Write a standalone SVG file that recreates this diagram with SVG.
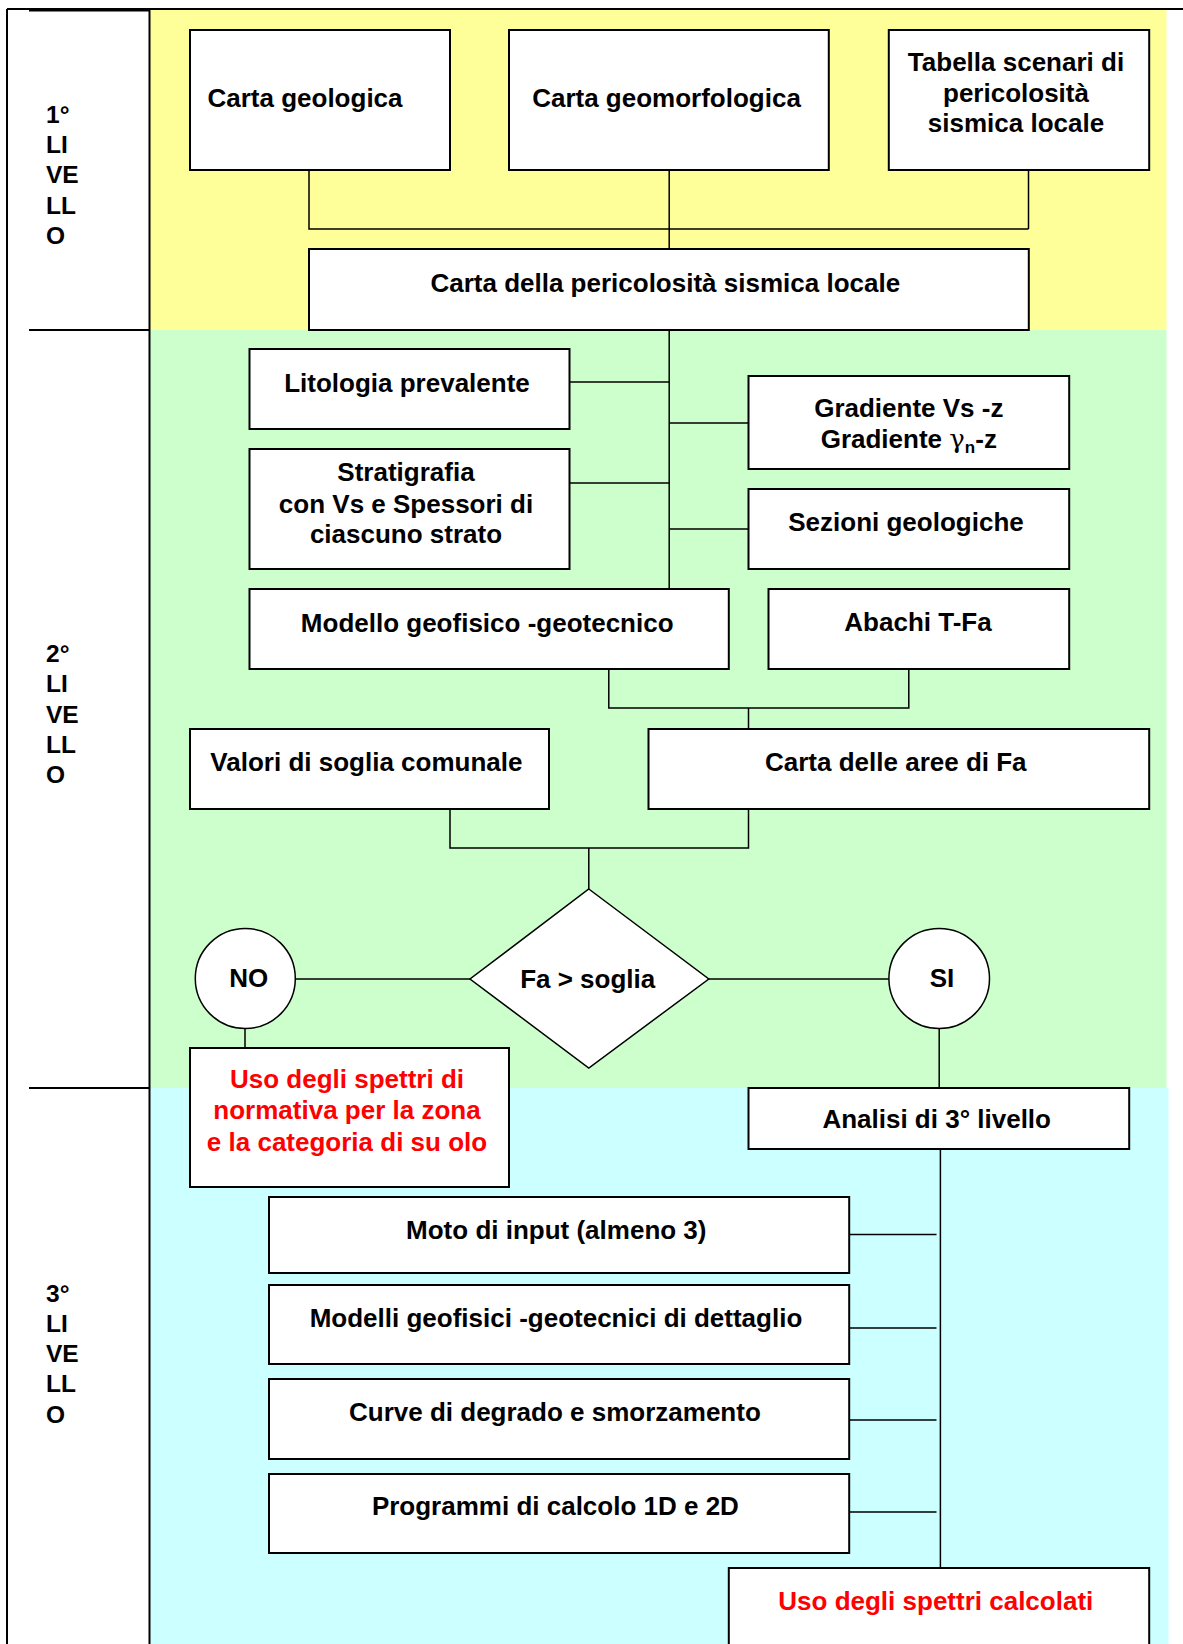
<svg xmlns="http://www.w3.org/2000/svg" width="1183" height="1644" viewBox="0 0 1183 1644">
<style>
.bx{fill:#fff;stroke:#000;stroke-width:2}
.sh{fill:#fff;stroke:#000;stroke-width:1.5}
.t{font-family:"Liberation Sans",Arial,sans-serif;font-weight:bold;font-size:26px;fill:#000;text-anchor:middle}
.r{fill:#ff0000}
.lv{font-family:"Liberation Sans",Arial,sans-serif;font-weight:bold;font-size:24.5px;fill:#000}
.c{fill:none;stroke:#000;stroke-width:1.5}
.fr{fill:none;stroke:#000;stroke-width:2}
</style>
<rect width="1183" height="1644" fill="#fff"/>
<g id="backgrounds">
<rect x="150" y="10" width="1016.5" height="320" fill="#ffff99"/>
<rect x="150" y="330" width="1016.5" height="758" fill="#ccffcc"/>
<rect x="150" y="1088" width="1018.5" height="556" fill="#ccffff"/>
</g>
<g id="frame">
<path class="fr" d="M7,9 H1183 M7,9 V1644 M29,10.5 H150 M149.5,10 V1644 M29,330 H150 M29,1088 H150"/>
</g>
<g id="levels">
<text class="lv" x="46" y="123">1°</text>
<text class="lv" x="46" y="152.5">LI</text>
<text class="lv" x="46" y="183">VE</text>
<text class="lv" x="46" y="213.5">LL</text>
<text class="lv" x="46" y="244">O</text>
<text class="lv" x="46" y="662">2°</text>
<text class="lv" x="46" y="692">LI</text>
<text class="lv" x="46" y="722.5">VE</text>
<text class="lv" x="46" y="752.5">LL</text>
<text class="lv" x="46" y="783">O</text>
<text class="lv" x="46" y="1301.5">3°</text>
<text class="lv" x="46" y="1331.5">LI</text>
<text class="lv" x="46" y="1361.5">VE</text>
<text class="lv" x="46" y="1392">LL</text>
<text class="lv" x="46" y="1423">O</text>
</g>
<g id="connectors">
<path class="c" d="M309,170 V229 H1028.5 M1028.5,170 V229 M669.2,170 V249"/>
<path class="c" d="M669.2,330 V589"/>
<path class="c" d="M569.5,382 H669.2 M569.5,483 H669.2 M669.2,423 H748.5 M669.2,529 H748.5"/>
<path class="c" d="M608.8,669 V708 H908.8 V669 M748.5,708 V729"/>
<path class="c" d="M450,809 V848 H748.5 V809 M588.8,848 V889"/>
<path class="c" d="M295.3,979 H470 M708.8,979 H888.8"/>
<path class="c" d="M245,1028.5 V1048 M939.2,1028.5 V1088"/>
<path class="c" d="M940.4,1149 V1568"/>
<path class="c" d="M849.2,1234.5 H936.5 M849.2,1328 H936.5 M849.2,1420 H936.5 M849.2,1512 H936.5"/>
</g>
<g id="carta-geologica">
<rect class="bx" x="190" y="30" width="260" height="140"/>
<text class="t" x="305" y="107">Carta geologica</text>
</g>
<g id="carta-geomorfologica">
<rect class="bx" x="509" y="30" width="319.8" height="140"/>
<text class="t" x="666.5" y="107">Carta geomorfologica</text>
</g>
<g id="tabella-scenari">
<rect class="bx" x="888.8" y="30" width="260.4" height="140"/>
<text class="t" x="1016" y="71">Tabella scenari di</text>
<text class="t" x="1016" y="101.5">pericolosità</text>
<text class="t" x="1016" y="132">sismica locale</text>
</g>
<g id="carta-pericolosita">
<rect class="bx" x="309" y="249" width="719.8" height="81"/>
<text class="t" x="665.3" y="292">Carta della pericolosità sismica locale</text>
</g>
<g id="litologia">
<rect class="bx" x="249.5" y="349" width="320" height="80"/>
<text class="t" x="407" y="392">Litologia prevalente</text>
</g>
<g id="gradiente">
<rect class="bx" x="748.5" y="376" width="320.7" height="93"/>
<text class="t" x="908.8" y="417">Gradiente Vs -z</text>
<text class="t" x="908.8" y="448">Gradiente <tspan font-family="'DejaVu Serif','Liberation Serif',serif" font-weight="normal">γ</tspan><tspan font-size="17" dy="5">n</tspan><tspan dy="-5">-z</tspan></text>
</g>
<g id="stratigrafia">
<rect class="bx" x="249.5" y="449" width="320" height="120"/>
<text class="t" x="406" y="481">Stratigrafia</text>
<text class="t" x="406" y="512.5">con Vs e Spessori di</text>
<text class="t" x="406" y="543">ciascuno strato</text>
</g>
<g id="sezioni">
<rect class="bx" x="748.5" y="489" width="320.7" height="80"/>
<text class="t" x="906" y="531">Sezioni geologiche</text>
</g>
<g id="modello">
<rect class="bx" x="249.5" y="589" width="479.3" height="80"/>
<text class="t" x="487.2" y="632">Modello geofisico -geotecnico</text>
</g>
<g id="abachi">
<rect class="bx" x="768.5" y="589" width="300.7" height="80"/>
<text class="t" x="918" y="631">Abachi T-Fa</text>
</g>
<g id="valori-soglia">
<rect class="bx" x="190" y="729" width="359" height="80"/>
<text class="t" x="366.4" y="771">Valori di soglia comunale</text>
</g>
<g id="carta-aree-fa">
<rect class="bx" x="648.5" y="729" width="500.7" height="80"/>
<text class="t" x="895.8" y="771">Carta delle aree di Fa</text>
</g>
<g id="decisione">
<polygon class="sh" points="588.8,889 708.8,979 588.8,1068 470,979"/>
<text class="t" x="587.7" y="988">Fa &gt; soglia</text>
</g>
<g id="no">
<ellipse class="sh" cx="245.3" cy="978.5" rx="50" ry="50"/>
<text class="t" x="248.8" y="987">NO</text>
</g>
<g id="si">
<ellipse class="sh" cx="939.2" cy="978.5" rx="50.3" ry="50"/>
<text class="t" x="942" y="987">SI</text>
</g>
<g id="uso-normativa">
<rect class="bx" x="190" y="1048" width="319" height="139"/>
<text class="t r" x="347" y="1088">Uso degli spettri di</text>
<text class="t r" x="347" y="1119">normativa per la zona</text>
<text class="t r" x="347" y="1151">e la categoria di su olo</text>
</g>
<g id="analisi">
<rect class="bx" x="748.5" y="1088" width="380.7" height="61"/>
<text class="t" x="936.7" y="1128">Analisi di 3° livello</text>
</g>
<g id="moto">
<rect class="bx" x="269" y="1197" width="580.2" height="76"/>
<text class="t" x="556.3" y="1239">Moto di input (almeno 3)</text>
</g>
<g id="modelli">
<rect class="bx" x="269" y="1285" width="580.2" height="79"/>
<text class="t" x="556" y="1327">Modelli geofisici -geotecnici di dettaglio</text>
</g>
<g id="curve">
<rect class="bx" x="269" y="1379" width="580.2" height="80"/>
<text class="t" x="554.9" y="1421">Curve di degrado e smorzamento</text>
</g>
<g id="programmi">
<rect class="bx" x="269" y="1474" width="580.2" height="79"/>
<text class="t" x="555.4" y="1515">Programmi di calcolo 1D e 2D</text>
</g>
<g id="uso-calcolati">
<rect class="bx" x="728.8" y="1568" width="420.4" height="90"/>
<text class="t r" x="935.8" y="1610">Uso degli spettri calcolati</text>
</g>
</svg>
